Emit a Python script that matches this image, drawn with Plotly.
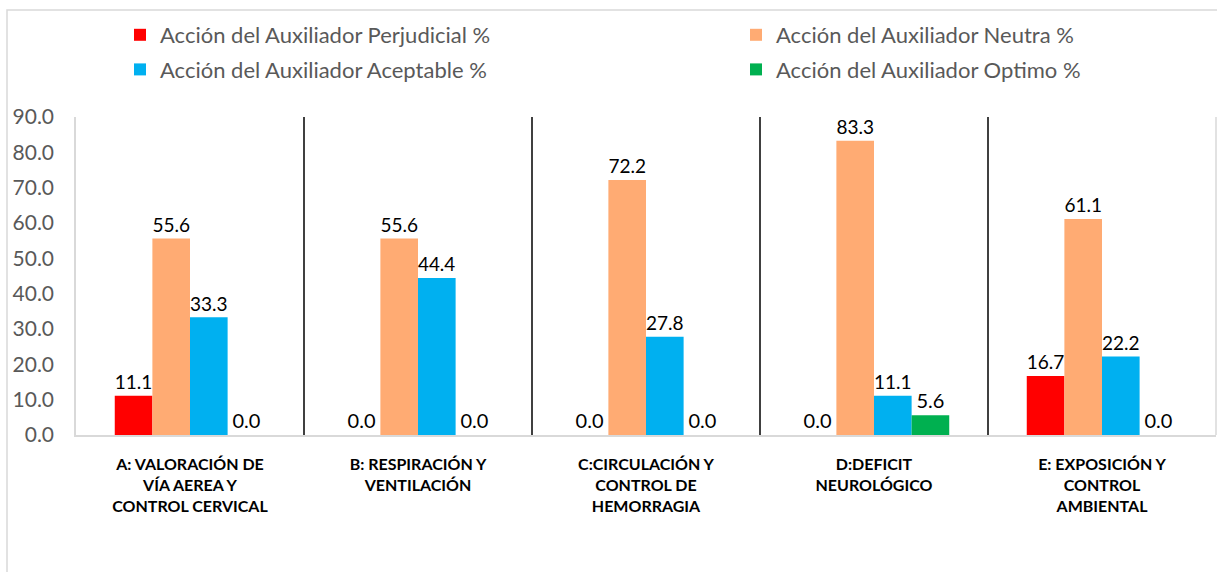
import plotly.graph_objects as go

# Categorías (eje X) y valores de cada serie
categorias = [
    "A: VALORACIÓN DE<br>VÍA AEREA Y<br>CONTROL CERVICAL",
    "B: RESPIRACIÓN Y<br>VENTILACIÓN",
    "C:CIRCULACIÓN Y<br>CONTROL DE<br>HEMORRAGIA",
    "D:DEFICIT<br>NEUROLÓGICO",
    "E: EXPOSICIÓN Y<br>CONTROL<br>AMBIENTAL",
]
perjudicial = [11.1, 0.0, 0.0, 0.0, 16.7]
neutra = [55.6, 55.6, 72.2, 83.3, 61.1]
aceptable = [33.3, 44.4, 27.8, 11.1, 22.2]
optimo = [0.0, 0.0, 0.0, 5.6, 0.0]

# (nombre, valores, color, leyenda) - two legend columns like the original
series = [
    ("Acción del Auxiliador Perjudicial %", perjudicial, "#FF0000", "legend"),
    ("Acción del Auxiliador Neutra %", neutra, "#FFAB73", "legend2"),
    ("Acción del Auxiliador Aceptable %", aceptable, "#00B0F0", "legend"),
    ("Acción del Auxiliador Optimo %", optimo, "#00B050", "legend2"),
]

FONT = "Lato, 'Open Sans', sans-serif"

fig = go.Figure()
for i, (name, vals, color, leg) in enumerate(series):
    fig.add_trace(go.Bar(
        x=categorias,
        y=vals,
        name=name,
        legend=leg,
        legendgroup=f"g{i}",
        marker=dict(color=color, line=dict(width=0)),
        text=[f"{v:.1f}" for v in vals],
        textposition="outside",
        textfont=dict(size=20, color="#000000", family=FONT),
        cliponaxis=False,
    ))

# Plot area in pixels (for the helper shapes)
W, H = 1217, 572
L, R, T, B = 76, 1, 117, 137
pw, ph = W - L - R, H - T - B


def px_x(p):
    return (p - L) / pw


def px_y(p):
    return (H - B - p) / ph


shapes = []
# black separators between categories
for i in range(len(categorias) - 1):
    shapes.append(dict(type="line", xref="x", yref="paper",
                       x0=i + 0.5, x1=i + 0.5, y0=0, y1=1,
                       line=dict(color="#000000", width=1.5)))
# right edge of plot area
shapes.append(dict(type="line", xref="paper", yref="paper",
                   x0=1, x1=1, y0=0, y1=1,
                   line=dict(color="#D9D9D9", width=1.5)))
# chart border
shapes.append(dict(type="rect", xref="paper", yref="paper",
                   x0=px_x(7), x1=px_x(1230), y0=px_y(600), y1=px_y(10),
                   line=dict(color="#D9D9D9", width=1.5), layer="below"))

legend_style = dict(
    yanchor="top", xanchor="left",
    y=px_y(14),
    orientation="v",
    tracegroupgap=3,
    font=dict(size=22, color="#595959", family=FONT),
    bgcolor="rgba(0,0,0,0)",
)

fig.update_layout(
    width=W, height=H,
    margin=dict(l=L, r=R, t=T, b=B),
    barmode="group",
    bargap=0.34,
    bargroupgap=0,
    paper_bgcolor="white",
    plot_bgcolor="white",
    font=dict(family=FONT, color="#595959", size=18),
    shapes=shapes,
    legend=dict(x=px_x(120), **legend_style),
    legend2=dict(x=px_x(736), **legend_style),
    xaxis=dict(
        showline=True, linecolor="#D9D9D9", linewidth=2,
        ticks="", showgrid=False,
        tickangle=0,
        ticklabelstandoff=14,
        tickfont=dict(size=16, color="#000000", family=FONT, weight="bold"),
    ),
    yaxis=dict(
        range=[0, 90], dtick=10, tickformat=".1f",
        showline=True, linecolor="#D9D9D9", linewidth=1.5,
        showgrid=False, ticks="", zeroline=False,
        ticklabelstandoff=16,
        tickfont=dict(size=21, color="#595959", family=FONT),
    ),
)

fig.write_html("out.html", config={"displayModeBar": False},
               post_script="document.body.style.margin='0';")
